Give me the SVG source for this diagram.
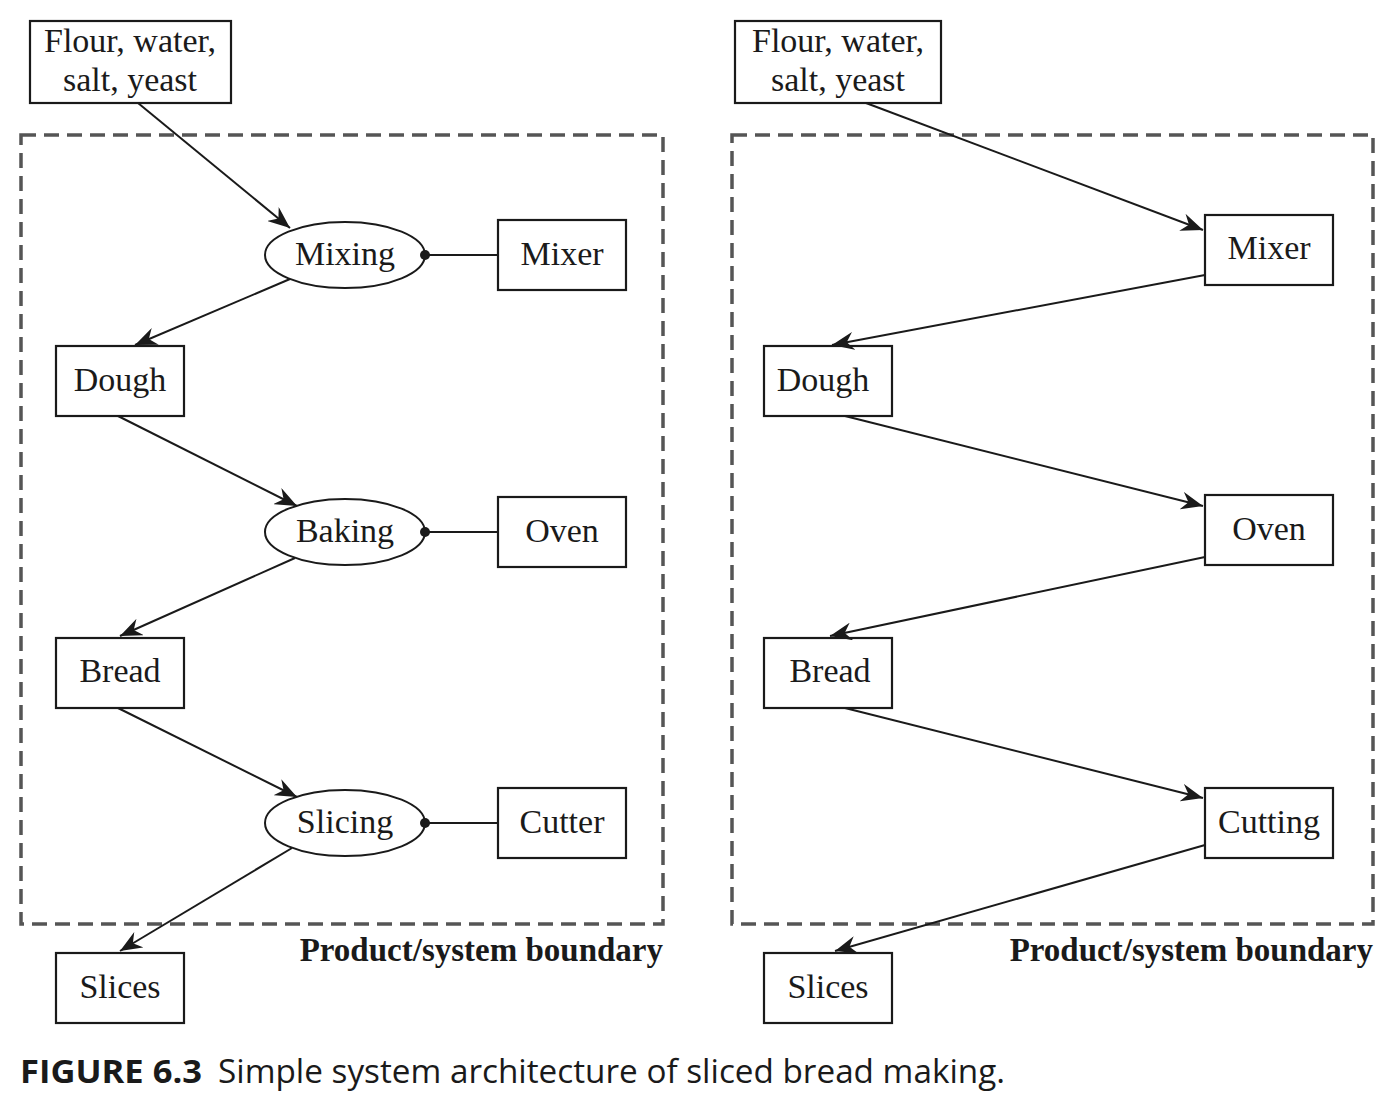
<svg xmlns="http://www.w3.org/2000/svg" width="1395" height="1108" viewBox="0 0 1395 1108">
<style>
.box{fill:#fff;stroke:#1a1a1a;stroke-width:2.2}
.ell{fill:#fff;stroke:#1a1a1a;stroke-width:2}
.t{font-family:"Liberation Serif","Times New Roman",serif;font-size:34px;fill:#1a1a1a;text-anchor:middle}
.bd{fill:none;stroke:#555;stroke-width:3.5;stroke-dasharray:15 8}
.lbl{font-family:"Liberation Serif","Times New Roman",serif;font-size:33px;font-weight:bold;fill:#1a1a1a;text-anchor:end}
.c{stroke:#1a1a1a;stroke-width:2;fill:none}
.cap{font-family:"Open Sans","Noto Sans",sans-serif;font-size:32px;fill:#1a1a1a}
</style>
<defs>
<marker id="ah" markerUnits="userSpaceOnUse" markerWidth="24" markerHeight="18" refX="22" refY="9" orient="auto">
<path d="M0,0 L22,9 L0,18 L7,9 z" fill="#1a1a1a"/>
</marker>
</defs>
<rect width="1395" height="1108" fill="#fff"/>

<!-- boundaries -->
<rect class="bd" x="21" y="135" width="642" height="789"/>
<rect class="bd" x="732" y="135" width="641" height="789"/>
<text class="lbl" x="663" y="961">Product/system boundary</text>
<text class="lbl" x="1373" y="961">Product/system boundary</text>

<!-- left panel nodes -->
<g id="l-flour"><rect class="box" x="30" y="21" width="201" height="82"/><text class="t" x="130" y="52">Flour, water,</text><text class="t" x="130" y="91">salt, yeast</text></g>
<g id="l-mixing"><ellipse class="ell" cx="345" cy="255" rx="80" ry="33"/><text class="t" x="345" y="265">Mixing</text></g>
<g id="l-mixer"><rect class="box" x="498" y="220" width="128" height="70"/><text class="t" x="562" y="265">Mixer</text></g>
<g id="l-dough"><rect class="box" x="56" y="346" width="128" height="70"/><text class="t" x="120" y="391">Dough</text></g>
<g id="l-baking"><ellipse class="ell" cx="345" cy="532" rx="80" ry="33"/><text class="t" x="345" y="542">Baking</text></g>
<g id="l-oven"><rect class="box" x="498" y="497" width="128" height="70"/><text class="t" x="562" y="542">Oven</text></g>
<g id="l-bread"><rect class="box" x="56" y="638" width="128" height="70"/><text class="t" x="120" y="682">Bread</text></g>
<g id="l-slicing"><ellipse class="ell" cx="345" cy="823" rx="80" ry="33"/><text class="t" x="345" y="833">Slicing</text></g>
<g id="l-cutter"><rect class="box" x="498" y="788" width="128" height="70"/><text class="t" x="562" y="833">Cutter</text></g>
<g id="l-slices"><rect class="box" x="56" y="953" width="128" height="70"/><text class="t" x="120" y="998">Slices</text></g>

<!-- right panel nodes -->
<g id="r-flour"><rect class="box" x="735" y="21" width="206" height="82"/><text class="t" x="838" y="52">Flour, water,</text><text class="t" x="838" y="91">salt, yeast</text></g>
<g id="r-mixer"><rect class="box" x="1205" y="215" width="128" height="70"/><text class="t" x="1269" y="259">Mixer</text></g>
<g id="r-dough"><rect class="box" x="764" y="346" width="128" height="70"/><text class="t" x="823" y="391">Dough</text></g>
<g id="r-oven"><rect class="box" x="1205" y="495" width="128" height="70"/><text class="t" x="1269" y="540">Oven</text></g>
<g id="r-bread"><rect class="box" x="764" y="638" width="128" height="70"/><text class="t" x="830" y="682">Bread</text></g>
<g id="r-cutting"><rect class="box" x="1205" y="788" width="128" height="70"/><text class="t" x="1269" y="833">Cutting</text></g>
<g id="r-slices"><rect class="box" x="764" y="953" width="128" height="70"/><text class="t" x="828" y="998">Slices</text></g>

<g id="connectors">
<line class="c" x1="138" y1="103" x2="290" y2="228" marker-end="url(#ah)"/>
<line class="c" x1="290" y1="279" x2="135" y2="345" marker-end="url(#ah)"/>
<line class="c" x1="118" y1="416" x2="297" y2="506" marker-end="url(#ah)"/>
<line class="c" x1="295" y1="558" x2="120" y2="636" marker-end="url(#ah)"/>
<line class="c" x1="118" y1="708" x2="297" y2="797" marker-end="url(#ah)"/>
<line class="c" x1="292" y1="848" x2="120" y2="951" marker-end="url(#ah)"/>
<line class="c" x1="425" y1="255" x2="498" y2="255"/>
<line class="c" x1="425" y1="532" x2="498" y2="532"/>
<line class="c" x1="425" y1="823" x2="498" y2="823"/>
<circle cx="425" cy="255" r="5" fill="#1a1a1a"/>
<circle cx="425" cy="532" r="5" fill="#1a1a1a"/>
<circle cx="425" cy="823" r="5" fill="#1a1a1a"/>

<line class="c" x1="866" y1="103" x2="1203" y2="230" marker-end="url(#ah)"/>
<line class="c" x1="1205" y1="275" x2="832" y2="345" marker-end="url(#ah)"/>
<line class="c" x1="845" y1="416" x2="1203" y2="506" marker-end="url(#ah)"/>
<line class="c" x1="1205" y1="557" x2="830" y2="636" marker-end="url(#ah)"/>
<line class="c" x1="845" y1="708" x2="1203" y2="798" marker-end="url(#ah)"/>
<line class="c" x1="1205" y1="845" x2="835" y2="951" marker-end="url(#ah)"/>
</g>

<text class="cap" x="20" y="1083" font-weight="bold" textLength="182" lengthAdjust="spacingAndGlyphs">FIGURE 6.3</text>
<text class="cap" x="218" y="1083" textLength="787" lengthAdjust="spacingAndGlyphs">Simple system architecture of sliced bread making.</text>
</svg>
